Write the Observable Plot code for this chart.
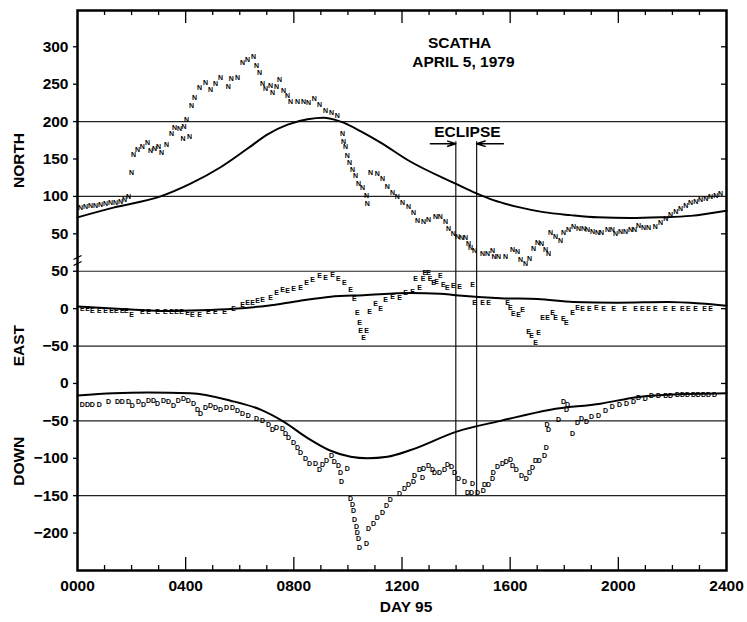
<!DOCTYPE html>
<html><head><meta charset="utf-8">
<script src="https://cdn.jsdelivr.net/npm/d3@7"></script>
<script src="https://cdn.jsdelivr.net/npm/@observablehq/plot@0.6"></script>
<style>
html,body{margin:0;padding:0;background:#fff;}
#chart svg{display:block;}
</style></head><body><div id="chart"></div>
<script>
// ---------- DATA (hour of day 95, field value) ----------
const hourTicks = [0, 4, 8, 12, 16, 20, 24];
const hourTickLabels = ["0000", "0400", "0800", "1200", "1600", "2000", "2400"];
const panels = ["NORTH", "EAST", "DOWN"];
const panelOffsets = [0, -50, -150];          // stacking offsets of the three panels
const northTickValues = [300, 250, 200, 150, 100, 50];
const eastTickValues = [50, 0, -50];
const downTickValues = [0, -50, -100, -150, -200];
const northGrid = [200, 100];
const eastGrid = [50, -50];
const downGrid = [-50, -150];
const eclipseTimes = [13.99, 14.76];

const northObs = [[0.11,85],[0.30,86],[0.48,87],[0.67,88],[0.85,89],[1.04,90],[1.22,91],[1.41,92],[1.59,93],[1.74,95],[1.89,100],
[2.00,132],[2.07,156],[2.22,163],[2.40,167],[2.59,172],[2.70,161],[2.85,164],[3.00,167],[3.11,158],[3.29,169],
[3.48,184],[3.59,192],[3.77,190],[3.90,177],[3.94,193],[4.03,203],[4.14,180],[4.22,221],[4.33,232],[4.51,245],
[4.73,252],[4.92,243],[5.10,251],[5.29,259],[5.58,247],[5.69,257],[5.92,259],[6.10,279],[6.29,283],[6.51,287],
[6.62,275],[6.73,265],[6.84,251],[6.95,244],[7.14,248],[7.21,238],[7.36,246],[7.47,256],[7.62,241],[7.77,235],
[7.88,226],[8.14,226],[8.36,226],[8.54,225],[8.76,231],[8.95,223],[9.17,214],[9.39,212],[9.61,208],
[9.80,184],[9.84,173],[9.91,166],[9.98,155],[10.06,145],[10.17,136],[10.28,127],[10.39,117],[10.54,111],[10.69,101],[10.72,90],
[10.84,132],[11.09,130],[11.28,123],[11.46,113],[11.65,105],[11.83,99],[12.02,92],[12.24,86],[12.43,78],[12.57,68],
[12.80,66],[12.98,69],[13.24,73],[13.42,73],[13.61,66],[13.72,57],[13.90,50],[14.05,46],[14.20,45],[14.35,45],
[14.46,37],[14.53,31],[14.68,27],[14.98,24],[15.16,24],[15.35,28],[15.40,19],[15.57,20],[15.83,20],[16.09,29],
[16.27,26],[16.38,16],[16.57,10],[16.72,17],[16.86,30],[17.01,38],[17.16,37],[17.31,29],[17.42,24],[17.49,52],
[17.68,46],[17.86,41],[17.97,52],[18.16,55],[18.34,60],[18.53,57],[18.71,57],[18.86,55],[19.05,53],[19.23,52],
[19.38,52],[19.60,55],[19.78,56],[19.90,50],[20.08,53],[20.27,53],[20.45,56],[20.60,55],[20.75,61],[20.93,58],
[21.12,58],[21.37,60],[21.56,65],[21.75,70],[21.93,76],[22.12,80],[22.30,84],[22.49,88],[22.67,91],[22.86,93],
[23.04,96],[23.23,97],[23.41,100],[23.60,101],[23.78,103]];

const eastObs = [[0.18,0],[0.37,0],[0.55,-3],[0.81,-3],[1.04,-3],[1.26,-3],[1.44,-3],[1.66,-3],[1.81,-3],[2.00,-8],
[2.40,-4],[2.63,-4],[2.96,-4],[3.25,-4],[3.48,-4],[3.66,-4],[3.85,-4],[4.07,-6],[4.25,-8],[4.51,-8],[4.84,-4],
[5.10,-4],[5.44,-4],[5.77,0],[6.10,5],[6.29,8],[6.47,8],[6.66,10],[6.84,12],[7.14,14],[7.36,21],[7.58,25],
[7.77,24],[7.99,26],[8.25,28],[8.47,35],[8.69,38],[8.95,44],[9.17,41],[9.43,45],[9.65,40],[9.87,34],[10.10,25],
[10.24,13],[10.35,-6],[10.43,-19],[10.47,-30],[10.58,-39],[10.69,-29],[10.80,-4],[11.02,6],[11.21,0],[11.39,12],
[11.65,16],[11.91,14],[12.13,21],[12.39,22],[12.50,40],[12.65,28],[12.78,40],[12.84,48],[12.98,48],[13.04,40],
[13.17,34],[13.28,36],[13.42,44],[13.53,32],[13.68,28],[13.90,30],[14.13,29],[14.61,32],[14.68,8],[14.98,8],
[15.20,8],[15.90,8],[16.01,1],[16.12,-7],[16.31,-8],[16.46,-2],[16.68,-31],[16.79,-36],[16.94,-46],[17.05,-32],
[17.20,-12],[17.38,-12],[17.57,-6],[17.68,-12],[17.97,-14],[18.08,-19],[18.31,-6],[18.49,1],[18.68,0],[18.93,0],
[19.19,1],[19.45,0],[19.82,0],[20.23,0],[20.64,0],[20.89,0],[21.12,0],[21.37,0],[21.74,0],[22.04,0],[22.37,0],
[22.59,0],[22.86,0],[23.19,0],[23.41,0]];

const downObs = [[0.18,-28],[0.37,-28],[0.55,-28],[0.81,-28],[1.15,-25],[1.48,-24],[1.66,-24],[1.89,-24],[2.03,-30],
[2.26,-25],[2.44,-28],[2.63,-23],[2.81,-23],[2.96,-27],[3.18,-23],[3.37,-25],[3.55,-30],[3.73,-23],[3.92,-20],
[4.10,-23],[4.29,-27],[4.44,-35],[4.55,-40],[4.73,-32],[4.92,-30],[5.10,-32],[5.29,-35],[5.51,-33],[5.73,-33],
[5.92,-36],[6.10,-40],[6.32,-43],[6.62,-47],[6.84,-50],[7.06,-55],[7.21,-62],[7.36,-59],[7.58,-60],[7.69,-67],
[7.80,-72],[7.99,-79],[8.14,-86],[8.25,-93],[8.43,-100],[8.58,-107],[8.80,-107],[8.95,-115],[9.06,-108],[9.21,-103],
[9.39,-96],[9.50,-105],[9.65,-110],[9.73,-119],[9.76,-131],[9.98,-114],[10.10,-154],[10.17,-162],[10.21,-170],
[10.24,-182],[10.32,-191],[10.35,-200],[10.39,-208],[10.43,-219],[10.69,-214],[10.76,-194],[10.95,-187],[11.09,-179],
[11.28,-173],[11.43,-163],[11.57,-155],[11.91,-147],[12.09,-141],[12.24,-135],[12.43,-132],[12.46,-123],[12.65,-115],
[12.76,-126],[12.80,-114],[12.98,-110],[13.13,-115],[13.20,-119],[13.39,-119],[13.57,-115],[13.68,-108],[13.83,-111],
[13.94,-120],[14.09,-127],[14.31,-131],[14.42,-146],[14.57,-146],[14.61,-134],[14.79,-146],[15.01,-143],[15.05,-135],
[15.20,-135],[15.35,-128],[15.38,-120],[15.53,-111],[15.72,-107],[15.86,-104],[16.01,-102],[16.09,-110],[16.23,-115],
[16.42,-123],[16.60,-127],[16.72,-119],[16.83,-112],[16.94,-103],[17.08,-103],[17.27,-96],[17.34,-86],[17.36,-55],
[17.42,-62],[17.79,-48],[17.97,-25],[18.08,-35],[18.12,-28],[18.31,-67],[18.49,-53],[18.64,-47],[18.82,-51],
[19.01,-45],[19.27,-43],[19.53,-36],[19.78,-31],[20.04,-28],[20.30,-27],[20.56,-24],[20.75,-19],[21.00,-21],
[21.23,-17],[21.49,-16],[21.75,-16],[21.93,-16],[22.19,-15],[22.37,-15],[22.56,-15],[22.78,-15],[22.96,-15],
[23.15,-15],[23.34,-15],[23.56,-15]];

const northModel = [[0,72],[1.33,85],[3.07,100],[4.18,117],[5.29,139],[6.29,164],[7.03,183],[7.77,196],[8.51,203],
[9.10,205],[9.73,200],[10.58,185],[11.21,172],[12.24,148],[13.98,117],[14.75,104],[15.38,95],[16.27,86],[17.23,79],
[18.23,75],[19.23,72],[20.45,71],[21.56,72],[22.67,74],[24,81]];
const eastModel = [[0,3],[1.96,-1],[3.33,-3],[4.55,-2],[5.77,0],[7.03,4],[8.14,10],[9.36,16],[10.58,18],[12.32,21],
[13.42,20],[13.98,18],[15.64,14],[17.01,13],[18.34,9],[19.97,8],[21.82,9],[23.04,7],[24,4]];
const downModel = [[0,-16],[1.33,-13],[2.59,-12],[4.18,-13],[5.66,-23],[6.77,-35],[7.62,-51],[8.51,-73],[9.36,-90],
[10.10,-98],[10.72,-100],[11.46,-98],[12.32,-89],[14.05,-64],[15.64,-50],[17.49,-35],[19.34,-27],[20.75,-18],
[21.82,-15],[24,-13]];

// ---------- BUILD ----------
const W = 747, H = 622;
const mL = 77, mR = 21, mT = 10, mB = 52;
const yDomain = [-400, 348.5];
const pxPerUnit = (H - mT - mB) / (yDomain[1] - yDomain[0]);
const hPerPx = 24 / (W - mL - mR);
const off = Object.fromEntries(panels.map((p, i) => [p, panelOffsets[i]]));
const rows = (arr, p, sym) => arr.map(([h, v]) => ({h, c: v + off[p], sym}));
const curve = (arr, p) => arr.map(([h, v]) => ({h, c: v + off[p]}));

const yTicks = [
  ...northTickValues.map(v => ({c: v + off.NORTH, v})),
  ...eastTickValues.map(v => ({c: v + off.EAST, v})),
  ...downTickValues.map(v => ({c: v + off.DOWN, v}))
];
const yLabel = new Map(yTicks.map(d => [d.c, d.v < 0 ? "\u2212" + (-d.v) : String(d.v)]));
const grid = [
  ...northGrid.map(v => v + off.NORTH),
  ...eastGrid.map(v => v + off.EAST),
  ...downGrid.map(v => v + off.DOWN)
];
const gridSet = new Set(grid);
const rightTicks = yTicks.map(d => d.c).filter(c => !gridSet.has(c));

const minorHours = d3.range(1, 24);
const u = px => px / pxPerUnit;   // pixel length -> y units

const font = "'Liberation Sans', Arial, Helvetica, sans-serif";
const markerFont = {fontSize: 7, fontWeight: "bold", fontFamily: font, fill: "black"};

const ecTop = 173, ecBottom = downGrid[1] + off.DOWN;
const arrowY = 170.5;
const labelY = {NORTH: 148, EAST: -99.5, DOWN: -254};

const plot = Plot.plot({
  width: W, height: H,
  marginLeft: mL, marginRight: mR, marginTop: mT, marginBottom: mB,
  x: {domain: [0, 24], axis: null},
  y: {domain: yDomain, axis: null},
  style: {fontFamily: font, fontSize: "15.5px", fontWeight: "bold", background: "white", color: "black", overflow: "visible"},
  marks: [
    Plot.ruleY(grid, {stroke: "#222", strokeWidth: 1.2}),
    // eclipse lines
    Plot.ruleX(eclipseTimes, {y1: ecBottom, y2: ecTop, stroke: "#111", strokeWidth: 1.2}),
    Plot.arrow([{x1: eclipseTimes[0] - 0.94, x2: eclipseTimes[0]}, {x1: eclipseTimes[1] + 0.99, x2: eclipseTimes[1]}],
      {x1: "x1", x2: "x2", y1: arrowY, y2: arrowY, stroke: "black", strokeWidth: 1.5, headLength: 9, headAngle: 35}),
    Plot.text(["ECLIPSE"], {x: 14.42, y: 186, text: d => d, fontSize: 15.5, fontWeight: "bold"}),
    Plot.text(["SCATHA"], {x: 14.13, y: 304.5, text: d => d, fontSize: 15.5, fontWeight: "bold"}),
    Plot.text(["APRIL 5, 1979"], {x: 14.27, y: 279, text: d => d, fontSize: 15.5, fontWeight: "bold"}),
    // model curves
    Plot.line(curve(northModel, "NORTH"), {x: "h", y: "c", stroke: "black", strokeWidth: 2, curve: "monotone-x"}),
    Plot.line(curve(eastModel, "EAST"), {x: "h", y: "c", stroke: "black", strokeWidth: 2, curve: "monotone-x"}),
    Plot.line(curve(downModel, "DOWN"), {x: "h", y: "c", stroke: "black", strokeWidth: 2, curve: "monotone-x"}),
    // observations
    Plot.text(rows(northObs, "NORTH", "N"), {x: "h", y: "c", text: "sym", ...markerFont}),
    Plot.text(rows(eastObs, "EAST", "E"), {x: "h", y: "c", text: "sym", ...markerFont}),
    Plot.text(rows(downObs, "DOWN", "D"), {x: "h", y: "c", text: "sym", ...markerFont}),
    // ticks along top and bottom (inward)
    Plot.ruleX(minorHours.filter(h => h % 4 !== 0), {y1: yDomain[0], y2: yDomain[0] + u(5), stroke: "black", strokeWidth: 1.3}),
    Plot.ruleX(hourTicks.slice(1, -1), {y1: yDomain[0], y2: yDomain[0] + u(13), stroke: "black", strokeWidth: 1.3}),
    Plot.ruleX(minorHours.filter(h => h % 4 !== 0), {y1: yDomain[1], y2: yDomain[1] - u(5), stroke: "black", strokeWidth: 1.3}),
    Plot.ruleX(hourTicks.slice(1, -1), {y1: yDomain[1], y2: yDomain[1] - u(13), stroke: "black", strokeWidth: 1.3}),
    // right inward ticks
    Plot.ruleY(rightTicks, {x1: 24 - 5 * hPerPx, x2: 24, stroke: "black", strokeWidth: 1.3}),
    // axis break marks on the left
    Plot.link([14.3 - u(3), 14.3 + u(3)], {x1: -4 * hPerPx, x2: 4 * hPerPx, y1: d => d - u(2), y2: d => d + u(2), stroke: "black", strokeWidth: 1.3}),
    Plot.frame({stroke: "black", strokeWidth: 2.5}),
    Plot.axisX({ticks: hourTicks, tickFormat: h => hourTickLabels[hourTicks.indexOf(h)], tickSize: 0, tickPadding: 9, label: null, fontSize: 15.5}),
    Plot.axisY({ticks: yTicks.map(d => d.c), tickFormat: c => yLabel.get(c), tickSize: 4, tickPadding: 5, label: null, fontSize: 15.5, strokeWidth: 1.3}),
    Plot.text(panels, {frameAnchor: "left", y: p => labelY[p], text: d => d, rotate: -90, dx: -58, textAnchor: "middle", lineAnchor: "middle", fontSize: 15.5, fontWeight: "bold"}),
    Plot.text(["DAY 95"], {frameAnchor: "bottom", x: 12.15, text: d => d, dy: 37, lineAnchor: "middle", fontSize: 15.5, fontWeight: "bold"})
  ]
});
document.getElementById("chart").appendChild(plot);
</script>
</body></html>
